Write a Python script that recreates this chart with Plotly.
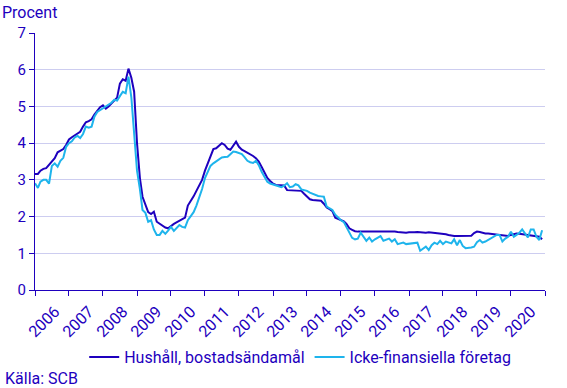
import pandas as pd
import plotly.graph_objects as go

months = pd.date_range("2006-01-01", "2020-12-01", freq="MS")

hushall = [
    3.16, 3.16, 3.25, 3.30, 3.32, 3.42, 3.50, 3.59, 3.75, 3.80, 3.84, 3.95,   # 2006
    4.10, 4.16, 4.20, 4.26, 4.31, 4.45, 4.57, 4.60, 4.65, 4.78, 4.88, 4.98,   # 2007
    5.03, 4.94, 5.00, 5.09, 5.16, 5.24, 5.62, 5.74, 5.70, 6.03, 5.78, 5.40,   # 2008
    4.00, 3.05, 2.54, 2.35, 2.12, 2.07, 2.13, 1.86, 1.80, 1.76, 1.70, 1.68,   # 2009
    1.75, 1.80, 1.84, 1.88, 1.93, 1.97, 2.30, 2.42, 2.55, 2.70, 2.84, 3.00,   # 2010
    3.25, 3.45, 3.65, 3.84, 3.86, 3.92, 4.00, 3.95, 3.85, 3.82, 3.92, 4.04,   # 2011
    3.90, 3.82, 3.78, 3.74, 3.70, 3.65, 3.59, 3.50, 3.35, 3.18, 3.05, 2.97,   # 2012
    2.90, 2.86, 2.86, 2.86, 2.85, 2.72, 2.72, 2.72, 2.72, 2.72, 2.70, 2.62,   # 2013
    2.55, 2.47, 2.45, 2.45, 2.44, 2.43, 2.35, 2.25, 2.20, 2.15, 1.97, 1.93,   # 2014
    1.90, 1.87, 1.80, 1.68, 1.64, 1.60, 1.59, 1.59, 1.59, 1.59, 1.60, 1.59,   # 2015
    1.60, 1.61, 1.59, 1.60, 1.60, 1.61, 1.59, 1.59, 1.58, 1.57, 1.56, 1.56,   # 2016
    1.57, 1.56, 1.57, 1.58, 1.57, 1.57, 1.56, 1.57, 1.56, 1.55, 1.55, 1.54,   # 2017
    1.54, 1.52, 1.50, 1.48, 1.47, 1.47, 1.47, 1.46, 1.47, 1.47, 1.48, 1.55,   # 2018
    1.59, 1.58, 1.56, 1.54, 1.54, 1.53, 1.52, 1.51, 1.50, 1.49, 1.48, 1.47,   # 2019
    1.50, 1.52, 1.54, 1.53, 1.52, 1.51, 1.50, 1.50, 1.49, 1.47, 1.45, 1.38,   # 2020
]

foretag = [
    2.91, 2.78, 2.95, 3.00, 3.00, 2.90, 3.38, 3.45, 3.36, 3.52, 3.60, 3.90,   # 2006
    4.00, 4.05, 4.15, 4.20, 4.14, 4.25, 4.45, 4.42, 4.45, 4.72, 4.85, 4.90,   # 2007
    4.95, 4.98, 5.04, 5.10, 5.18, 5.16, 5.28, 5.40, 5.36, 5.81, 5.25, 4.20,   # 2008
    3.25, 2.75, 2.18, 2.10, 1.86, 1.90, 1.65, 1.50, 1.50, 1.61, 1.53, 1.62,   # 2009
    1.72, 1.61, 1.68, 1.77, 1.72, 1.70, 1.90, 2.00, 2.12, 2.30, 2.50, 2.75,   # 2010
    3.05, 3.25, 3.38, 3.45, 3.50, 3.55, 3.61, 3.62, 3.63, 3.70, 3.77, 3.76,   # 2011
    3.74, 3.70, 3.62, 3.52, 3.48, 3.46, 3.52, 3.40, 3.22, 3.10, 2.95, 2.90,   # 2012
    2.87, 2.84, 2.82, 2.80, 2.84, 2.91, 2.80, 2.82, 2.88, 2.85, 2.74, 2.72,   # 2013
    2.70, 2.65, 2.62, 2.58, 2.56, 2.55, 2.54, 2.27, 2.22, 2.18, 2.05, 1.97,   # 2014
    1.90, 1.85, 1.70, 1.54, 1.42, 1.38, 1.40, 1.56, 1.45, 1.34, 1.43, 1.32,   # 2015
    1.38, 1.42, 1.47, 1.34, 1.37, 1.40, 1.32, 1.38, 1.25, 1.28, 1.29, 1.25,   # 2016
    1.26, 1.27, 1.28, 1.29, 1.07, 1.12, 1.18, 1.09, 1.22, 1.29, 1.25, 1.34,   # 2017
    1.25, 1.32, 1.30, 1.27, 1.38, 1.22, 1.36, 1.20, 1.14, 1.14, 1.16, 1.18,   # 2018
    1.30, 1.36, 1.29, 1.32, 1.36, 1.40, 1.45, 1.50, 1.50, 1.32, 1.40, 1.45,   # 2019
    1.59, 1.45, 1.50, 1.56, 1.65, 1.55, 1.43, 1.65, 1.65, 1.45, 1.36, 1.63,   # 2020
]

series_names = ["Hushåll, bostadsändamål", "Icke-finansiella företag"]
y_ticks = [0, 1, 2, 3, 4, 5, 6, 7]

DARK = "#1e00be"
LIGHT = "#1eb4ec"
TEXT = "#1e00be"
GRID = "#cdcdf0"

fig = go.Figure()
fig.add_trace(go.Scatter(x=months, y=hushall, mode="lines", name=series_names[0],
                         line=dict(color=DARK, width=2)))
fig.add_trace(go.Scatter(x=months, y=foretag, mode="lines", name=series_names[1],
                         line=dict(color=LIGHT, width=2)))

fig.update_layout(
    width=567, height=388,
    margin=dict(l=35, r=22, t=33, b=98, autoexpand=False),
    paper_bgcolor="white", plot_bgcolor="white",
    font=dict(family="Roboto", size=16, color=TEXT),
    showlegend=True,
    legend=dict(orientation="h", x=0.52, xanchor="center", y=-0.195, yanchor="top",
                font=dict(size=16, color=TEXT), itemwidth=30, tracegroupgap=0),
    annotations=[
        dict(text="Procent", xref="paper", yref="paper", x=-35/510, y=(290-12)/257,
             xanchor="left", yanchor="middle", showarrow=False,
             font=dict(size=16, color=TEXT)),
        dict(text="Källa: SCB", xref="paper", yref="paper", x=-32/510, y=(290-378)/257,
             xanchor="left", yanchor="middle", showarrow=False,
             font=dict(size=16, color=TEXT)),
    ],
)

fig.update_xaxes(
    range=["2006-01-01", "2021-01-01"],
    tick0="2006-01-01", dtick="M12", tickformat="%Y",
    ticklabelmode="period", tickangle=-45, automargin=False,
    ticklabelstandoff=0, ticklabelshift=3,
    ticks="outside", ticklen=5, tickcolor=TEXT,
    showline=True, linecolor=TEXT, linewidth=1,
    showgrid=False, zeroline=False,
    tickfont=dict(size=16, color=TEXT),
)
fig.update_yaxes(
    range=[0, 7], tickvals=y_ticks, automargin=False,
    ticks="outside", ticklen=5, tickcolor=TEXT,
    showline=True, linecolor=TEXT, linewidth=1,
    showgrid=True, gridcolor=GRID, gridwidth=1,
    zeroline=False,
    tickfont=dict(size=15, color=TEXT),
)

fig.write_html("out.html",
               config={"displayModeBar": False},
               post_script="document.body.style.margin='0';document.body.style.overflow='hidden';")
